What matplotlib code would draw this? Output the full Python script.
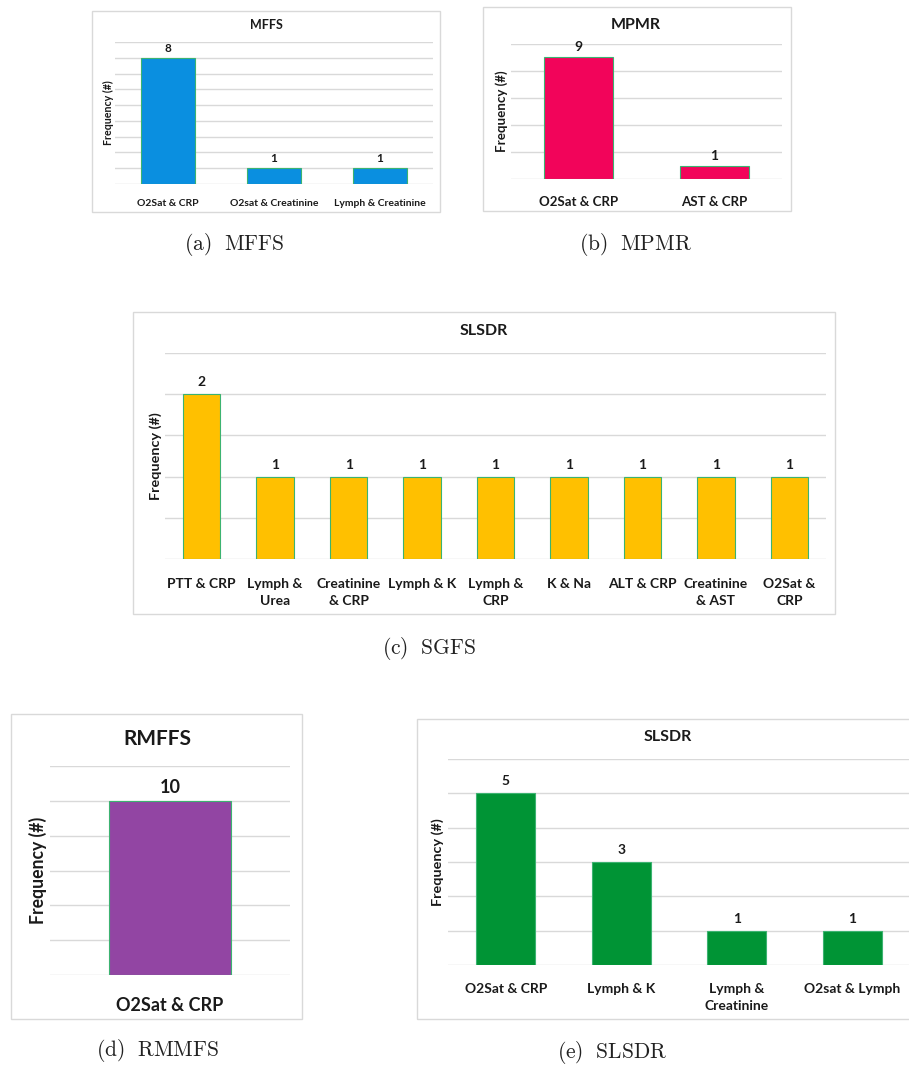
import matplotlib
matplotlib.use("Agg")
import matplotlib.pyplot as plt
from matplotlib.patches import Rectangle

plt.rcParams['font.family'] = ['Lato', 'DejaVu Sans']
plt.rcParams['mathtext.fontset'] = 'cm'

W, H = 909, 1066

# ---- data ----
mffs_cats = ["O2Sat & CRP", "O2sat & Creatinine", "Lymph & Creatinine"]
mffs_vals = [8, 1, 1]

mpmr_cats = ["O2Sat & CRP", "AST & CRP"]
mpmr_vals = [9, 1]

sgfs_cats = ["PTT & CRP", "Lymph &\nUrea", "Creatinine\n& CRP", "Lymph & K",
             "Lymph &\nCRP", "K & Na", "ALT & CRP", "Creatinine\n& AST", "O2Sat &\nCRP"]
sgfs_vals = [2, 1, 1, 1, 1, 1, 1, 1, 1]

rmmfs_cats = ["O2Sat & CRP"]
rmmfs_vals = [10]

slsdr_cats = ["O2Sat & CRP", "Lymph & K", "Lymph &\nCreatinine", "O2sat & Lymph"]
slsdr_vals = [5, 3, 1, 1]

fig = plt.figure(figsize=(W / 100, H / 100), dpi=100)


def rect(x0, y0, x1, y1):
    return [x0 / W, 1 - y1 / H, (x1 - x0) / W, (y1 - y0) / H]


def frame(x0, y0, x1, y1):
    fig.patches.append(Rectangle((x0 / W, 1 - y1 / H), (x1 - x0) / W, (y1 - y0) / H,
                                 transform=fig.transFigure, facecolor='none',
                                 edgecolor='#D9D9D9', lw=1.0, zorder=-1))


def panel(cats, vals, color, axbox, ymax, step, title, title_xy, fs_title,
          fs_tick, fs_val, fs_ylab, ylab_x, val_off, tick_pad):
    ax = fig.add_axes(rect(*axbox))
    ax.set_facecolor('none')
    x = list(range(len(cats)))
    ax.bar(x, vals, width=0.51, color=color, edgecolor='#3CB371', linewidth=0.8, zorder=3)
    ax.set_xlim(-0.5, len(cats) - 0.5)
    ax.set_ylim(0, ymax)
    ticks = [i * step for i in range(int(round(ymax / step)) + 1)]
    ax.set_yticks(ticks)
    ax.yaxis.grid(True, color='#D9D9D9', lw=1.0, zorder=0)
    ax.set_axisbelow(True)
    ax.tick_params(axis='both', length=0)
    ax.set_yticklabels([])
    ax.set_xticks(x)
    ax.set_xticklabels(cats, fontsize=fs_tick, fontweight='bold', color='#1a1a1a',
                       linespacing=1.5)
    ax.tick_params(axis='x', pad=tick_pad)
    for s in ax.spines.values():
        s.set_visible(False)
    for xi, v in zip(x, vals):
        ax.annotate(str(v), (xi, v), xytext=(0, val_off), textcoords='offset pixels',
                    ha='center', va='bottom', fontsize=fs_val, fontweight='bold',
                    color='#1a1a1a')
    fig.text(title_xy[0] / W, 1 - title_xy[1] / H, title, ha='center', va='center',
             fontsize=fs_title, fontweight='bold', color='#1a1a1a')
    cy = (axbox[1] + axbox[3]) / 2
    fig.text(ylab_x / W, 1 - cy / H, "Frequency (#)", rotation=90, ha='center', va='center',
             fontsize=fs_ylab, fontweight='bold', color='#1a1a1a')
    return ax


def caption(x, y, s):
    fig.text(x / W, 1 - y / H, s, ha='center', va='center', fontsize=15.5, color='#222222')


# (a)
frame(92, 11, 440, 212)
panel(mffs_cats, mffs_vals, '#0A8FE0', (115, 42, 433, 184), 9, 1, "MFFS", (266, 25),
      9, 7.5, 8.5, 7.7, 108, 4, 11)
caption(234, 244, r'$\mathrm{(a)\ \ MFFS}$')

# (b)
frame(483, 7, 791, 211)
panel(mpmr_cats, mpmr_vals, '#F2045A', (511, 44, 782, 179), 10, 2, "MPMR", (636, 25),
      11.5, 9.5, 10, 9.6, 502, 4, 12)
caption(636, 244, r'$\mathrm{(b)\ \ MPMR}$')

# (c)
frame(133, 312, 835, 614)
panel(sgfs_cats, sgfs_vals, '#FFC000', (165, 353, 826, 559), 2.5, 0.5, "SLSDR", (484, 331),
      11.5, 10, 10, 10.4, 156, 6, 14)
caption(429, 649, r'$\mathrm{(c)\ \ SGFS}$')

# (d)
frame(11, 714, 302, 1019)
panel(rmmfs_cats, rmmfs_vals, '#9245A3', (50, 766, 290, 975), 12, 2, "RMFFS", (157, 739),
      15, 13, 13, 12.7, 38, 5, 16)
caption(158, 1051, r'$\mathrm{(d)\ \ RMMFS}$')

# (e)
frame(417, 719, 912, 1019)
panel(slsdr_cats, slsdr_vals, '#009435', (448, 759, 910, 965), 6, 1, "SLSDR", (668, 737),
      11.5, 10, 10, 10.4, 438, 6, 13)
caption(612, 1052, r'$\mathrm{(e)\ \ SLSDR}$')

fig.savefig("out.png", dpi=100, facecolor='white')
